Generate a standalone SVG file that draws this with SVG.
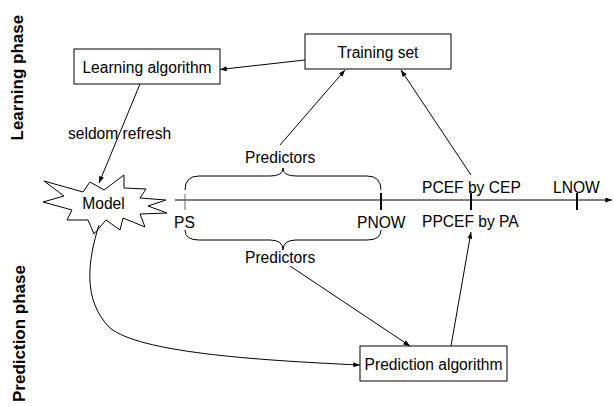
<svg xmlns="http://www.w3.org/2000/svg" width="614" height="406" viewBox="0 0 614 406">
<style>
text{font-family:"Liberation Sans",Arial,sans-serif;font-size:15.6px;fill:#000}
.phase{font-weight:bold;font-size:17px}
.box{fill:#fff;stroke:#000;stroke-width:1}
.ln{fill:none;stroke:#000;stroke-width:1}
.tk{stroke:#000;stroke-width:2}
</style>
<defs>
<marker id="ah" viewBox="0 0 8 6" refX="8" refY="3" markerWidth="7" markerHeight="5" markerUnits="userSpaceOnUse" orient="auto">
<path d="M0,0 L8,3 L0,6 Z" fill="#000"/>
</marker>
</defs>
<rect width="614" height="406" fill="#fff"/>
<text class="phase" transform="translate(23,140.5) rotate(-90)">Learning phase</text>
<text class="phase" transform="translate(25,402) rotate(-90)">Prediction phase</text>
<g id="timeline">
<line class="ln" x1="175" y1="200" x2="612" y2="200" marker-end="url(#ah)"/>
<line x1="185" y1="194" x2="185" y2="210" stroke="#666" stroke-width="1"/>
<line class="tk" x1="381" y1="193" x2="381" y2="210"/>
<line class="tk" x1="471" y1="193" x2="471" y2="210"/>
<line class="tk" x1="577" y1="193" x2="577" y2="210"/>
<text x="174" y="228">PS</text>
<text x="357" y="228">PNOW</text>
<text x="422" y="193">PCEF by CEP</text>
<text x="553" y="193">LNOW</text>
<text x="422" y="227">PPCEF by PA</text>
<path class="ln" d="M185,190 Q185,176 199,176 L270,176 Q283,176 283,168 Q283,176 296,176 L367,176 Q381,176 381,190"/>
<path class="ln" d="M185,230 Q185,240 199,240 L270,240 Q283,240 283,250 Q283,240 296,240 L367,240 Q381,240 381,230"/>
<text x="245" y="163">Predictors</text>
<text x="245" y="263">Predictors</text>
</g>
<g id="learning">
<rect class="box" x="74" y="49" width="146" height="35"/>
<text x="147" y="72.7" text-anchor="middle">Learning algorithm</text>
</g>
<g id="training">
<rect class="box" x="305" y="34" width="146" height="35"/>
<text x="378" y="58" text-anchor="middle">Training set</text>
</g>
<g id="prediction">
<rect class="box" x="360" y="346" width="147" height="35"/>
<text x="433.5" y="370" text-anchor="middle">Prediction algorithm</text>
</g>
<g id="model">
<polygon class="box" points="44,181 83,192 90,182 104,190 124,175 124,188 146,189 140,198 166,200 148,206 167,213 140,214 145,227 123,218 120,230 106,220 94,234 88,220 67,220 72,210 43,202 64,196"/>
<text x="103.5" y="209" text-anchor="middle">Model</text>
</g>
<g id="connectors">
<line class="ln" x1="305" y1="60" x2="220" y2="69.5" marker-end="url(#ah)"/>
<line class="ln" x1="140" y1="84" x2="99" y2="183" marker-end="url(#ah)"/>
<line class="ln" x1="280" y1="145" x2="345" y2="70" marker-end="url(#ah)"/>
<line class="ln" x1="471" y1="175" x2="401" y2="70" marker-end="url(#ah)"/>
<line class="ln" x1="290" y1="266" x2="410" y2="346" marker-end="url(#ah)"/>
<line class="ln" x1="451" y1="346" x2="471" y2="232" marker-end="url(#ah)"/>
<path class="ln" d="M99,225 C88,260 82,300 110,328 C140,352 250,360 360,365" marker-end="url(#ah)"/>
<text x="68" y="139">seldom refresh</text>
</g>
</svg>
